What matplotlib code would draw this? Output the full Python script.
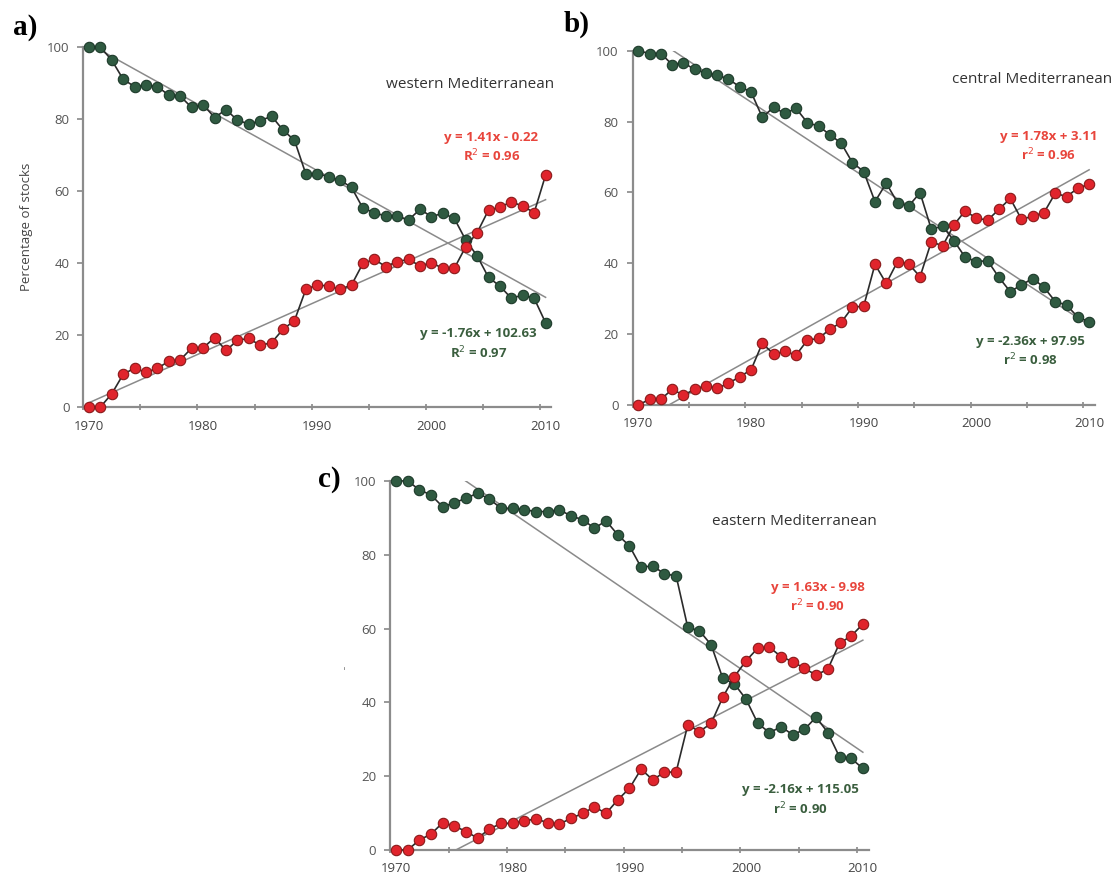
import numpy as np
import matplotlib.pyplot as plt

plt.rcParams['font.family'] = ['Open Sans', 'DejaVu Sans']

years = np.arange(1970, 2011)

# western Mediterranean
west_green = [100, 100, 96.3, 91, 89, 89.4, 89, 86.6, 86.3, 83.2, 84, 80.4, 82.6, 79.7,
              78.6, 79.5, 80.8, 76.9, 74.1, 64.7, 64.8, 64, 63, 61, 55.2, 54, 53, 53,
              52, 54.9, 52.9, 53.8, 52.4, 46.4, 42, 36, 33.6, 30.2, 31.1, 30.2, 23.4]
west_red = [0, 0, 3.7, 9.1, 10.8, 9.6, 10.8, 12.7, 13.1, 16.4, 16.4, 19.3, 15.7, 18.5,
            19.1, 17.1, 17.9, 21.6, 24, 32.7, 33.9, 33.6, 32.7, 33.9, 39.9, 41, 39, 40.4,
            41, 39.2, 40.1, 38.5, 38.5, 44.5, 48.4, 54.7, 55.5, 57, 55.8, 54, 64.4]

# central Mediterranean
central_green = [100, 99.2, 99.2, 96.1, 96.6, 94.7, 93.8, 93.1, 92, 89.8, 88.4, 81.2, 84,
                 82.3, 83.7, 79.7, 78.7, 76.3, 73.9, 68.4, 65.9, 57.4, 62.6, 57.1, 56.2,
                 59.9, 49.6, 50.5, 46.4, 41.7, 40.5, 40.7, 36, 32, 33.9, 35.7, 33.2, 29.2,
                 28.2, 24.8, 23.5]
central_red = [0, 1.6, 1.6, 4.4, 2.8, 4.4, 5.4, 4.7, 6.1, 8, 9.9, 17.4, 14.4, 15.1, 14.1,
               18.3, 18.8, 21.4, 23.3, 27.6, 27.9, 39.7, 34.3, 40.5, 39.8, 36.2, 46.1,
               44.9, 50.8, 54.8, 52.7, 52.2, 55.2, 58.3, 52.4, 53.3, 54.3, 59.8, 58.8,
               61.2, 62.3]

# eastern Mediterranean
east_green = [100, 100, 97.6, 96.2, 93, 94.1, 95.3, 96.7, 95.1, 92.6, 92.6, 92.2, 91.7,
              91.7, 92.2, 90.5, 89.5, 87.2, 89.2, 85.4, 82.4, 76.6, 77, 74.8, 74.3, 60.3,
              59.4, 55.6, 46.5, 45, 40.8, 34.3, 31.8, 33.4, 31.2, 32.7, 36, 31.8, 25.2,
              24.8, 22.1]
east_red = [0, 0, 2.7, 4.3, 7.4, 6.5, 5, 3.2, 5.7, 7.2, 7.2, 7.9, 8.4, 7.4, 7, 8.6, 9.9,
            11.7, 9.9, 13.6, 16.7, 21.9, 19, 21.1, 21.1, 33.9, 32.1, 34.3, 41.4, 47, 51.3,
            54.7, 54.9, 52.4, 51, 49.2, 47.4, 49, 56, 58, 61.2]

# linear fits (x = 1 for 1970): slope, intercept
west_fit_red = (1.41, -0.22)
west_fit_green = (-1.76, 102.63)
central_fit_red = (1.78, -6.6)
central_fit_green = (-2.1, 108.6)
east_fit_red = (1.63, -9.98)
east_fit_green = (-2.16, 115.05)

GREEN = '#2f5a41'
RED = '#e0242c'
TXT_RED = '#e8453c'
TXT_GREEN = '#3a5e3e'

fig = plt.figure(figsize=(11.18, 8.77), dpi=100)


def panel(rect, green, red, fit_red, fit_green, title, eq_red, r2_red, eq_green, r2_green,
          letter, letter_pos, title_pos, red_pos, green_pos, ylabel=None):
    ax = fig.add_axes(rect)
    xi = years - 1969
    for m, b in (fit_red, fit_green):
        ax.plot(years, m * xi + b, color='#8a8a8a', lw=1.1, zorder=1)
    ax.plot(years, green, color='#2b2b2b', lw=1.2, marker='o', ms=7.5,
            mfc=GREEN, mec='#1d3a2a', mew=0.8, clip_on=False, zorder=3)
    ax.plot(years, red, color='#2b2b2b', lw=1.2, marker='o', ms=7.5,
            mfc=RED, mec='#8a1a1a', mew=0.8, clip_on=False, zorder=3)

    ax.set_xlim(1969.5, 2010.5)
    ax.set_ylim(0, 100)
    ax.set_yticks(range(0, 101, 20))
    ax.set_xticks(range(1970, 2011, 10))
    ax.set_xticks(np.arange(1969.5, 2011, 5), minor=True)
    ax.tick_params(axis='x', which='major', length=0, pad=9, labelsize=9.5,
                   labelcolor='#444444')
    ax.tick_params(axis='x', which='minor', length=5, direction='inout',
                   color='#888888', width=1.2)
    ax.tick_params(axis='y', length=4, color='#888888', width=1.2, labelsize=9.5,
                   labelcolor='#555555', pad=6)
    for s in ('top', 'right'):
        ax.spines[s].set_visible(False)
    for s in ('left', 'bottom'):
        ax.spines[s].set_color('#8c8c8c')
        ax.spines[s].set_linewidth(1.6)

    ax.text(*title_pos, title, transform=ax.transAxes, fontsize=11, color='#333333',
            ha='center', va='center')
    ax.text(red_pos[0], red_pos[1], eq_red + '\n' + r2_red, transform=ax.transAxes,
            fontsize=9.5, color=TXT_RED, fontweight='bold', ha='center', va='center',
            linespacing=1.3)
    ax.text(green_pos[0], green_pos[1], eq_green + '\n' + r2_green,
            transform=ax.transAxes, fontsize=9.5, color=TXT_GREEN, fontweight='bold',
            ha='center', va='center', linespacing=1.3)
    ax.text(*letter_pos, letter, transform=ax.transAxes, fontsize=21,
            fontweight='bold', family='Liberation Serif', ha='left', va='center')
    if ylabel:
        ax.set_ylabel(ylabel, fontsize=9.5, color='#444444', labelpad=10)
    return ax


panel([0.0745, 0.5359, 0.4186, 0.4105], west_green, west_red, west_fit_red,
      west_fit_green, 'western Mediterranean', 'y = 1.41x - 0.22', 'R$^2$ = 0.96',
      'y = -1.76x + 102.63', 'R$^2$ = 0.97', 'a)', (-0.15, 1.055),
      (0.827, 0.897), (0.872, 0.72), (0.845, 0.175), ylabel='Percentage of stocks')

panel([0.5659, 0.5382, 0.4133, 0.404], central_green, central_red, central_fit_red,
      central_fit_green, 'central Mediterranean', 'y = 1.78x + 3.11', 'r$^2$ = 0.96',
      'y = -2.36x + 97.95', 'r$^2$ = 0.98', 'b)', (-0.15, 1.075),
      (0.864, 0.918), (0.90, 0.73), (0.86, 0.15))

ax_c = panel([0.349, 0.0308, 0.428, 0.4208], east_green, east_red, east_fit_red,
             east_fit_green, 'eastern Mediterranean', 'y = 1.63x - 9.98', 'r$^2$ = 0.90',
             'y = -2.16x + 115.05', 'r$^2$ = 0.90', 'c)', (-0.15, 1.005),
             (0.845, 0.89), (0.893, 0.683), (0.857, 0.135))
ax_c.text(-0.095, 0.48, '\u02c8', transform=ax_c.transAxes, fontsize=8,
          color='#777777', ha='center', va='center')

fig.savefig('out.png', dpi=100, facecolor='white')
